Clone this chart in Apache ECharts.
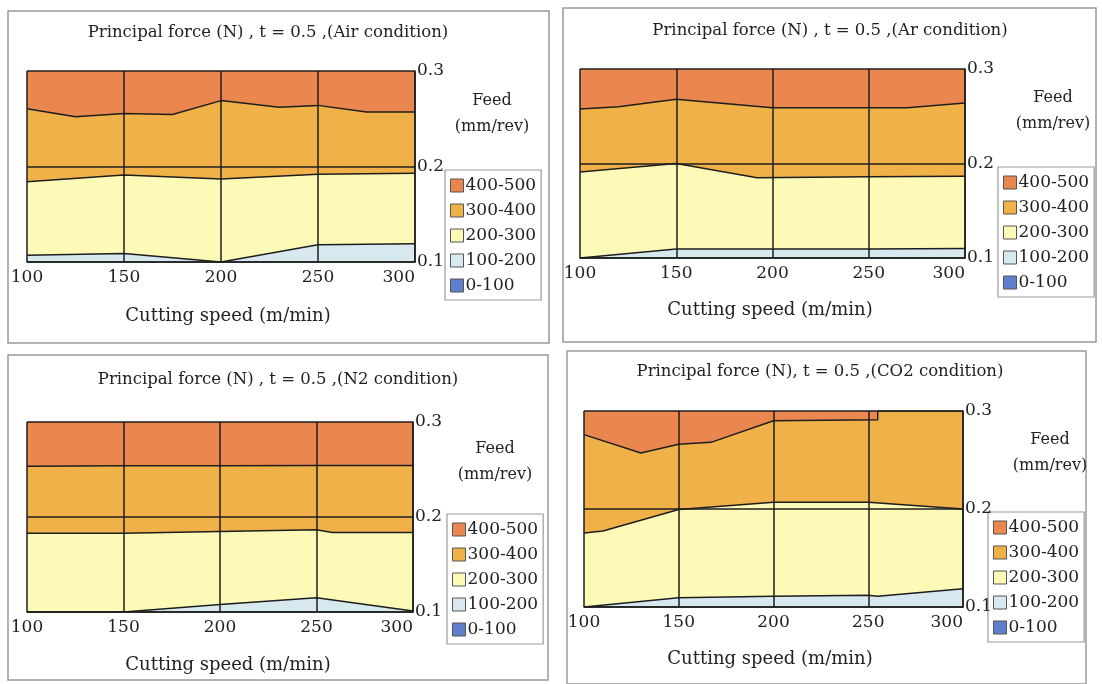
<!DOCTYPE html>
<html>
<head>
<meta charset="utf-8">
<script src="https://cdn.jsdelivr.net/npm/echarts@6/dist/echarts.min.js"></script>
<style>
html,body{margin:0;padding:0;background:#fff;}
#c{width:1102px;height:684px;}
</style>
</head>
<body>
<div id="c"></div>
<script>
// ---- data ----
const speedTicks = [100, 150, 200, 250, 300];
const feedTicks = [0.1, 0.2, 0.3];
const bandNames = ['400-500', '300-400', '200-300', '100-200', '0-100'];
const bandColors = ['#EA874E', '#EFB148', '#FDFAB8', '#D8E8EF', '#5E7FCC'];
const titles = [
  'Principal force (N) , t = 0.5 ,(Air condition)',
  'Principal force (N) , t = 0.5 ,(Ar condition)',
  'Principal force (N) , t = 0.5 ,(N2 condition)',
  'Principal force (N), t = 0.5 ,(CO2 condition)'
];
// boundaries [cutting speed, feed]
// Air
const air100_200 = [[100,0.107],[150,0.109],[200,0.100],[250,0.118],[300,0.119]];
const air200_300 = [[100,0.184],[150,0.191],[200,0.187],[250,0.192],[300,0.193]];
const air300_400 = [[100,0.2605],[125,0.252],[150,0.2555],[175,0.2545],[200,0.269],[230,0.262],[250,0.264],[275,0.257],[300,0.257]];
// Ar
const ar100_200 = [[100,0.100],[150,0.1095],[200,0.1095],[250,0.1095],[300,0.110]];
const ar200_300 = [[100,0.191],[150,0.200],[192,0.185],[250,0.186],[300,0.1865]];
const ar300_400 = [[100,0.2576],[120,0.260],[150,0.268],[200,0.259],[270,0.259],[300,0.264]];
// N2
const n2100_200 = [[100,0.100],[150,0.100],[200,0.108],[250,0.115],[300,0.101]];
const n2200_300 = [[100,0.183],[150,0.183],[200,0.1848],[250,0.1865],[258,0.1837],[300,0.1837]];
const n2300_400 = [[100,0.2533],[150,0.254],[200,0.254],[250,0.2543],[300,0.2543]];
// CO2
const co2100_200 = [[100,0.100],[150,0.1095],[200,0.111],[250,0.112],[255,0.111],[300,0.1187]];
const co2200_300 = [[100,0.1755],[110,0.1776],[150,0.1995],[200,0.207],[250,0.207],[300,0.200]];
const co2300_400 = [[100,0.2759],[130,0.2571],[150,0.266],[167,0.268],[200,0.290],[255,0.291],[255,0.300],[300,0.300]];
const topBand = [[100,0.3],[300,0.3]];

const panels = [
  {b:[air300_400, air200_300, air100_200], frame:[8,11,541,332], grid:[27,71,388,191], legend:[445,170], feed:[492,101], title:[268,33], xname:[228,316]},
  {b:[ar300_400, ar200_300, ar100_200], frame:[563,8,533,334], grid:[580,69,385,189], legend:[998,167], feed:[1053,98], title:[830,31], xname:[770,310]},
  {b:[n2300_400, n2200_300, n2100_200], frame:[8,355,540,325], grid:[27,422,386,190], legend:[447,514], feed:[495,449], title:[278,380], xname:[228,665]},
  {b:[co2300_400, co2200_300, co2100_200], frame:[567,351,519,333], grid:[584,411,379,196], legend:[988,512], feed:[1050,440], title:[820,372], xname:[770,659]}
];

const FONT = 'DejaVu Serif';
const option = {
  animation:false,
  backgroundColor:'#fff',
  grid:[], xAxis:[], yAxis:[], series:[], legend:[], graphic:[]
};
panels.forEach((p,i)=>{
  option.graphic.push({type:'rect', shape:{x:p.frame[0], y:p.frame[1], width:p.frame[2], height:p.frame[3]}, style:{fill:null, stroke:'#9a9a9a', lineWidth:1.5}, z:-1, silent:true});
  option.graphic.push({type:'text', x:p.feed[0], y:p.feed[1], style:{text:'Feed', font:'16px "DejaVu Serif"', fill:'#222', align:'center', verticalAlign:'middle'}, silent:true});
  option.graphic.push({type:'text', x:p.feed[0], y:p.feed[1]+26, style:{text:'(mm/rev)', font:'16px "DejaVu Serif"', fill:'#222', align:'center', verticalAlign:'middle'}, silent:true});
  option.graphic.push({type:'text', x:p.title[0], y:p.title[1], style:{text:titles[i], font:'16.5px "DejaVu Serif"', fill:'#222', align:'center', verticalAlign:'middle'}, silent:true});
  option.graphic.push({type:'text', x:p.xname[0], y:p.xname[1], style:{text:'Cutting speed (m/min)', font:'18px "DejaVu Serif"', fill:'#222', align:'center', verticalAlign:'middle'}, silent:true});
  option.grid.push({left:p.grid[0], top:p.grid[1], width:p.grid[2], height:p.grid[3]});
  option.xAxis.push({type:'value', gridIndex:i, min:speedTicks[0], max:speedTicks[speedTicks.length-1], interval:50, z:10,
    axisLine:{show:true, lineStyle:{color:'#1e1e1e', width:1.5}}, axisTick:{show:false},
    splitLine:{show:true, lineStyle:{color:'#1e1e1e', width:1.5}},
    axisLabel:{color:'#222', fontFamily:FONT, fontSize:17, margin:7, alignMaxLabel:'right'}});
  option.yAxis.push({type:'value', gridIndex:i, position:'right', min:feedTicks[0], max:feedTicks[feedTicks.length-1], interval:0.1, z:10,
    axisLine:{show:true, lineStyle:{color:'#1e1e1e', width:1.5}}, axisTick:{show:false},
    splitLine:{show:true, lineStyle:{color:'#1e1e1e', width:1.5}},
    axisLabel:{color:'#222', fontFamily:FONT, fontSize:17, margin:2, formatter:v=>v.toFixed(1)}});
  const layers = [topBand, p.b[0], p.b[1], p.b[2]];
  layers.forEach((d,k)=>{
    option.series.push({type:'line', name:bandNames[k], xAxisIndex:i, yAxisIndex:i, data:d, showSymbol:false, symbol:'none', silent:true,
      itemStyle:{color:bandColors[k]},
      lineStyle:{color:'#1e1e1e', width:k===0?0:1.5},
      areaStyle:{color:bandColors[k], opacity:1, origin:'start'}});
  });
  option.series.push({type:'line', name:bandNames[4], xAxisIndex:i, yAxisIndex:i, data:[], itemStyle:{color:bandColors[4]}});
  option.legend.push({left:p.legend[0], top:p.legend[1], orient:'vertical', data:bandNames, icon:'rect', selectedMode:false,
    itemWidth:13, itemHeight:13, itemGap:8, padding:[7,5,6,5], borderColor:'#999', borderWidth:1.2,
    itemStyle:{borderColor:'#555', borderWidth:1},
    textStyle:{fontFamily:FONT, fontSize:17, color:'#222', padding:[0,0,0,-3]}});
});
const chart = echarts.init(document.getElementById('c'), null, {renderer:'canvas'});
chart.setOption(option);
</script>
</body>
</html>
